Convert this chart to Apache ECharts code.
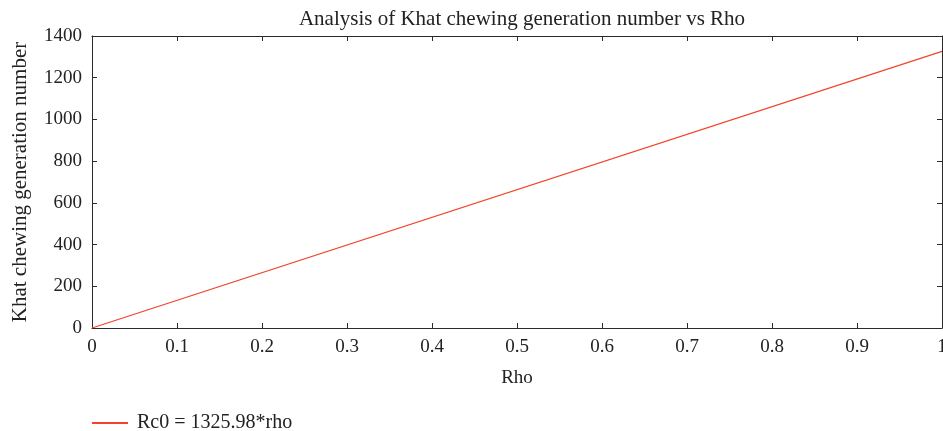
<!DOCTYPE html>
<html>
<head>
<meta charset="utf-8">
<script src="https://cdn.jsdelivr.net/npm/echarts@6/dist/echarts.min.js"></script>
<style>
  html, body { margin: 0; padding: 0; background: #fff; }
  #chart { width: 943px; height: 431px; }
</style>
</head>
<body>
<div id="chart"></div>
<script>
// data
const rho = [0, 1]
const rc0 = [0, 1325.98]
const seriesName = 'Rc0 = 1325.98*rho'

const font = 'Liberation Serif'
const axisColor = '#2a2a2a'
const lineColor = '#f2442a'
const fs = 19

const chart = echarts.init(document.getElementById('chart'))

const baseX = {
  type: 'value',
  min: 0,
  max: 1,
  interval: 0.1,
  axisLine: { show: true, onZero: false, lineStyle: { color: axisColor, width: 1 } },
  axisTick: { show: true, inside: true, length: 5, lineStyle: { color: axisColor } },
  splitLine: { show: false }
}
const baseY = {
  type: 'value',
  min: 0,
  max: 1400,
  interval: 200,
  axisLine: { show: true, onZero: false, lineStyle: { color: axisColor, width: 1 } },
  axisTick: { show: true, inside: true, length: 5, lineStyle: { color: axisColor } },
  splitLine: { show: false }
}

chart.setOption({
  animation: false,
  textStyle: { fontFamily: font },
  title: {
    text: 'Analysis of Khat chewing generation number vs Rho',
    left: 517,
    textAlign: 'center',
    top: 4,
    textStyle: { fontFamily: font, fontSize: 21, fontWeight: 'normal', color: '#222' }
  },
  grid: { left: 92, right: 1, top: 36, bottom: 103, outerBoundsMode: 'none' },
  legend: {
    left: 87,
    top: 408,
    itemWidth: 36,
    itemHeight: 2,
    itemGap: 10,
    icon: 'rect',
    textStyle: { fontFamily: font, fontSize: 20, color: '#222', padding: [0, 0, 0, 4] },
    data: [seriesName]
  },
  xAxis: [
    Object.assign({}, baseX, {
      position: 'bottom',
      name: 'Rho',
      nameLocation: 'middle',
      nameGap: 41,
      nameTextStyle: { fontFamily: font, fontSize: fs, color: '#222' },
      axisLabel: {
        fontFamily: font, fontSize: fs, color: '#222', margin: 10,
        formatter: v => (v === 0 ? '0' : v === 1 ? '1' : v.toFixed(1))
      }
    }),
    Object.assign({}, baseX, { position: 'top', axisLabel: { show: false } })
  ],
  yAxis: [
    Object.assign({}, baseY, {
      position: 'left',
      name: 'Khat chewing generation number',
      nameLocation: 'middle',
      nameGap: 61,
      nameTextStyle: { fontFamily: font, fontSize: 21, color: '#222' },
      axisLabel: { fontFamily: font, fontSize: fs, color: '#222', margin: 10, formatter: v => String(v) }
    }),
    Object.assign({}, baseY, { position: 'right', axisLabel: { show: false } })
  ],
  series: [
    {
      name: seriesName,
      type: 'line',
      data: rho.map((x, i) => [x, rc0[i]]),
      showSymbol: false,
      symbol: 'none',
      lineStyle: { color: lineColor, width: 1.2 },
      itemStyle: { color: lineColor }
    }
  ]
})
</script>
</body>
</html>
